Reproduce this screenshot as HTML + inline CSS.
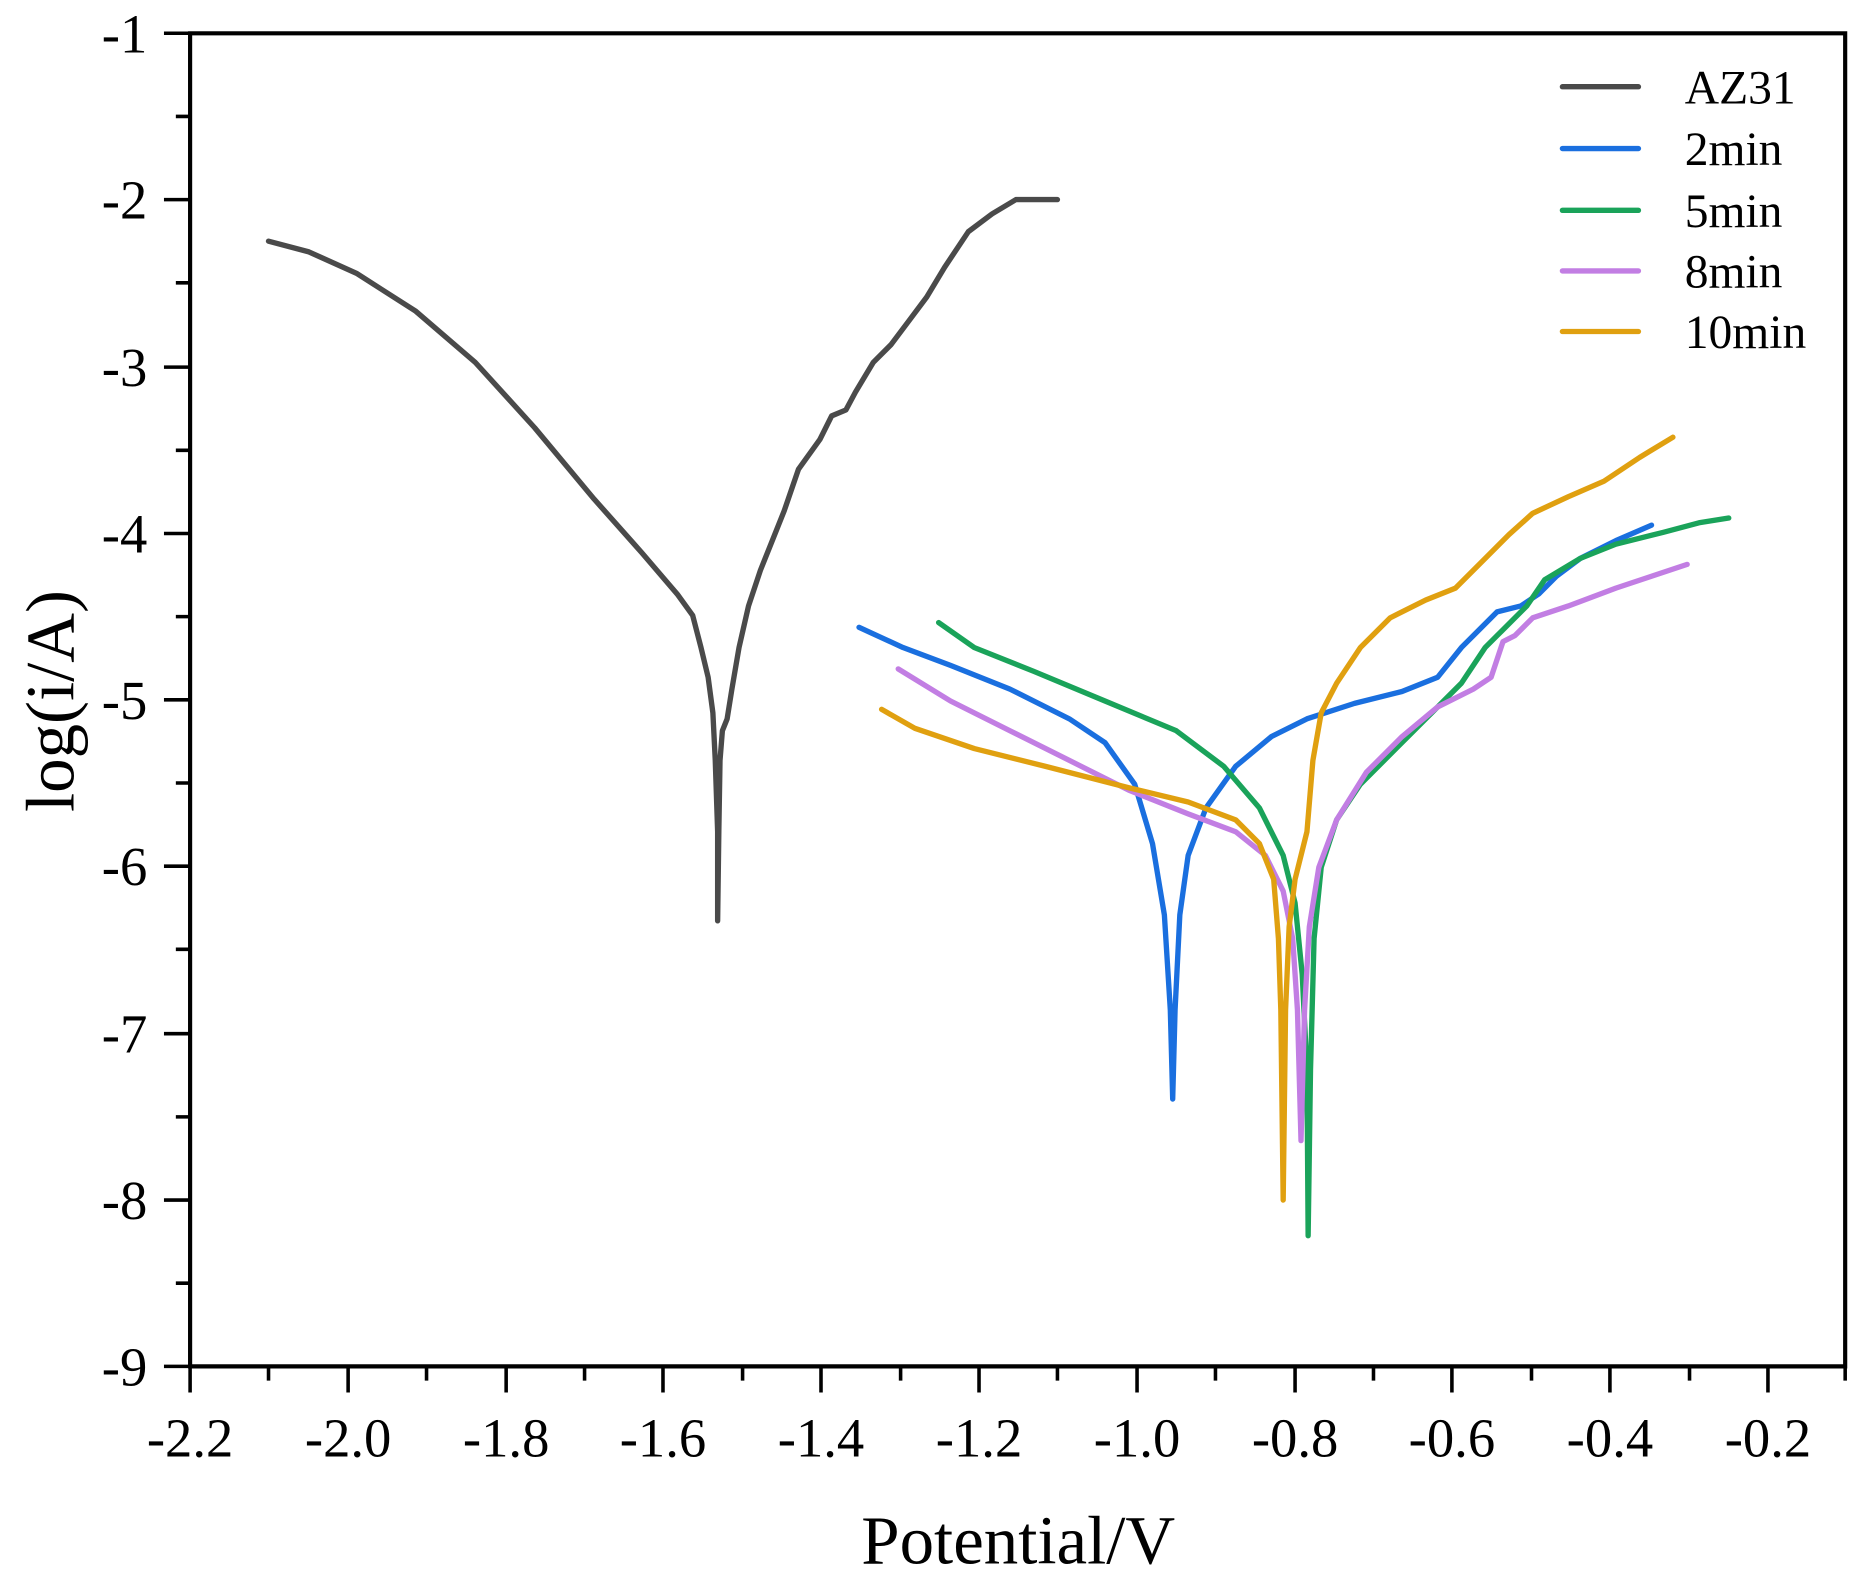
<!DOCTYPE html><html><head><style>html,body{margin:0;padding:0;background:#fff}svg{display:block}</style></head><body>
<svg width="1863" height="1585" viewBox="0 0 1568 1334" preserveAspectRatio="none" xmlns="http://www.w3.org/2000/svg" font-family="Liberation Serif, serif">
<rect width="1568" height="1334" fill="#fff"/>
<g stroke="#000" stroke-width="3.5" fill="none">
<path d="M160,28 V1150 H1553 V28 Z"/>
</g>
<g stroke="#000" stroke-width="3">
<path d="M160,1150v22M226,1150v12M293,1150v22M359,1150v12M426,1150v22M492,1150v12M558,1150v22M625,1150v12M691,1150v22M758,1150v12M824,1150v22M890,1150v12M957,1150v22M1023,1150v12M1090,1150v22M1156,1150v12M1222,1150v22M1289,1150v12M1355,1150v22M1422,1150v12M1488,1150v22M1553,1150v12"/>
<path d="M160,28h-22M160,98h-12M160,168h-22M160,238h-12M160,309h-22M160,379h-12M160,449h-22M160,519h-12M160,589h-22M160,659h-12M160,729h-22M160,799h-12M160,870h-22M160,940h-12M160,1010h-22M160,1080h-12M160,1150h-22"/>
</g>
<g font-size="46" text-anchor="end">
<text x="124" y="44">-1</text><text x="124" y="184">-2</text><text x="124" y="325">-3</text><text x="124" y="465">-4</text><text x="124" y="605">-5</text><text x="124" y="745">-6</text><text x="124" y="886">-7</text><text x="124" y="1026">-8</text><text x="124" y="1166">-9</text>
</g>
<g font-size="46" text-anchor="middle">
<text x="160" y="1226">-2.2</text><text x="293" y="1226">-2.0</text><text x="426" y="1226">-1.8</text><text x="558" y="1226">-1.6</text><text x="691" y="1226">-1.4</text><text x="824" y="1226">-1.2</text><text x="957" y="1226">-1.0</text><text x="1090" y="1226">-0.8</text><text x="1222" y="1226">-0.6</text><text x="1355" y="1226">-0.4</text><text x="1488" y="1226">-0.2</text>
</g>
<text x="857" y="1316" font-size="58" text-anchor="middle">Potential/V</text>
<text transform="translate(62,590) rotate(-90)" font-size="58" text-anchor="middle">log(i/A)</text>
<g fill="none" stroke-width="4.5" stroke-linejoin="round" stroke-linecap="round">
<polyline stroke="#4a4a4a" points="226,203 260,212 300,230 350,262 400,305 450,360 500,420 540,465 570,500 583,518 590,545 596,570 600,600 602,640 604,700 604,775 605,700 606,640 608,615 612,605 616,580 622,545 630,510 640,480 650,455 660,430 672,395 690,370 700,350 712,345 720,330 735,305 750,290 765,270 780,250 795,225 815,195 835,180 855,168 890,168"/>
<polyline stroke="#1a6fdf" points="723,528 760,545 800,560 850,580 900,605 930,625 955,660 970,710 980,770 985,850 987,925 989,850 993,770 1000,720 1015,680 1040,645 1070,620 1100,605 1140,592 1180,582 1210,570 1230,545 1260,515 1280,510 1295,500 1310,485 1330,470 1360,455 1390,442"/>
<polyline stroke="#1aa35a" points="790,524 820,545 870,565 930,590 990,615 1030,645 1060,680 1080,720 1090,760 1096,820 1100,900 1101,1040 1103,900 1106,790 1112,730 1125,690 1145,660 1175,630 1205,600 1230,575 1250,545 1260,535 1265,530 1285,510 1300,488 1330,470 1360,458 1400,448 1430,440 1455,436"/>
<polyline stroke="#c27ee3" points="756,563 800,590 850,615 900,640 950,665 1000,685 1040,700 1065,720 1080,750 1088,790 1092,850 1095,960 1098,850 1102,780 1110,730 1125,690 1150,650 1180,620 1210,595 1240,580 1255,570 1265,540 1275,535 1290,520 1320,510 1360,495 1390,485 1420,475"/>
<polyline stroke="#e0a010" points="742,597 770,613 820,630 880,645 950,663 1000,675 1040,690 1060,710 1072,740 1076,790 1078,850 1080,1010 1082,850 1085,780 1090,740 1100,700 1105,640 1112,600 1125,575 1145,545 1170,520 1200,505 1225,495 1245,475 1270,450 1290,432 1320,418 1350,405 1380,385 1408,368"/>
<path stroke="#4a4a4a" d="M1315,73h64"/><path stroke="#1a6fdf" d="M1315,125h64"/><path stroke="#1aa35a" d="M1315,177h64"/><path stroke="#c27ee3" d="M1315,228h64"/><path stroke="#e0a010" d="M1315,279h64"/>
</g>
<g font-size="40">
<text x="1418" y="87">AZ31</text><text x="1418" y="139">2min</text><text x="1418" y="191">5min</text><text x="1418" y="242">8min</text><text x="1418" y="293">10min</text>
</g>
</svg>
</body></html>
